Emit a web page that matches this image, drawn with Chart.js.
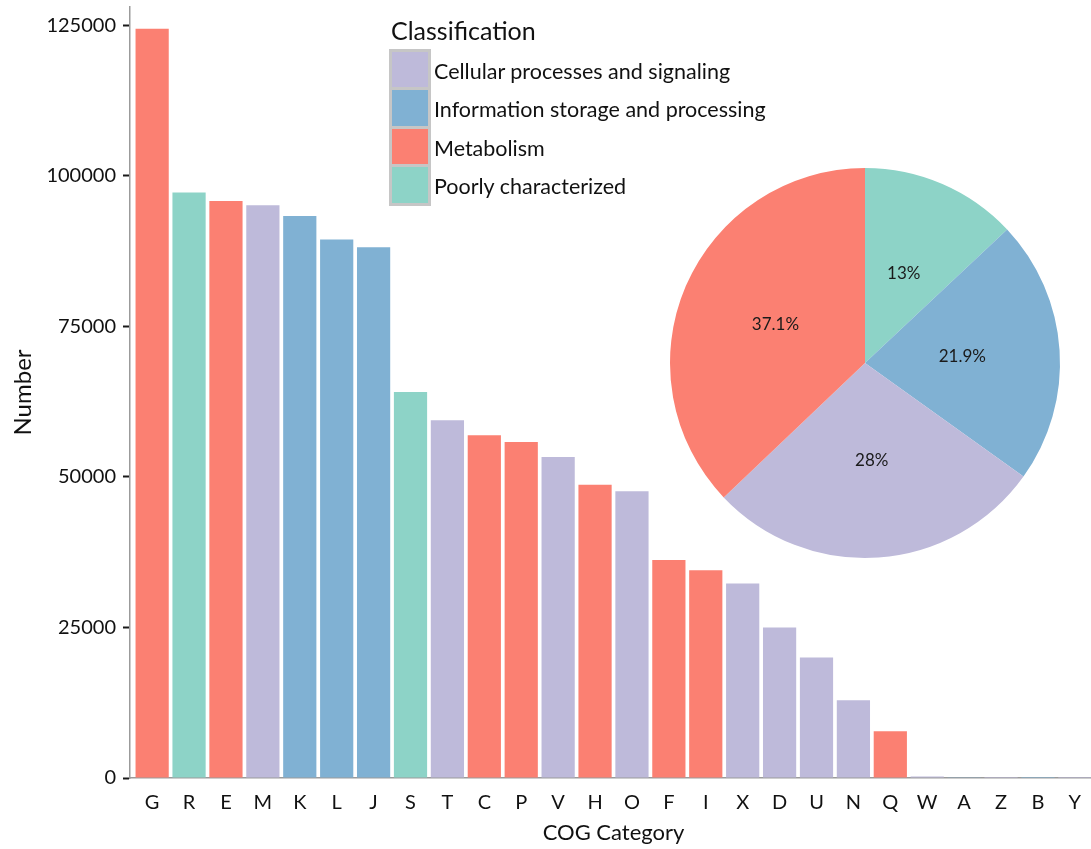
<!DOCTYPE html>
<html>
<head>
<meta charset="utf-8">
<script src="https://cdn.jsdelivr.net/npm/chart.js@4.4.1/dist/chart.umd.min.js"></script>
<style>
  html, body { margin: 0; padding: 0; background: #fff; overflow: hidden; }
  #wrap { position: relative; width: 1091px; height: 849px; overflow: hidden; font-family: Lato, sans-serif; color: #111; }
  #barChart { position: absolute; left: 0; top: 0; }
  #pieChart { position: absolute; left: 665px; top: 163px; }
  #legendTitle { position: absolute; left: 391px; top: 14.6px; font-size: 25px; line-height: 30px; white-space: nowrap; }
  #legendKeys { position: absolute; left: 389px; top: 48.5px; padding: 3px; background: #c6c6c6; }
  #legendKeys div { width: 36px; height: 35.5px; margin-bottom: 3px; }
  #legendKeys div:last-child { margin-bottom: 0; }
  .legendLabel { position: absolute; left: 434px; font-size: 21.5px; line-height: 25.8px; white-space: nowrap; }
</style>
</head>
<body>
<div id="wrap">
  <canvas id="barChart" width="1097" height="849"></canvas>
  <canvas id="pieChart" width="400" height="400"></canvas>
  <div id="legendTitle">Classification</div>
  <div id="legendKeys"></div>
</div>
<script>
// COG categories, gene counts and the functional class of each category
const categories = ['G', 'R', 'E', 'M', 'K', 'L', 'J', 'S', 'T', 'C', 'P', 'V', 'H', 'O', 'F', 'I', 'X', 'D', 'U', 'N', 'Q', 'W', 'A', 'Z', 'B', 'Y'];
const counts = [124400, 97200, 95800, 95100, 93300, 89400, 88100, 64100, 59400, 56900, 55800, 53300, 48700, 47600, 36200, 34500, 32300, 25000, 20000, 12900, 7750, 250, 40, 10, 5, 2];
const categoryClass = [2, 3, 2, 0, 1, 1, 1, 3, 0, 2, 2, 0, 2, 0, 2, 2, 0, 0, 0, 0, 2, 0, 1, 0, 1, 0];

const classes = ['Cellular processes and signaling', 'Information storage and processing', 'Metabolism', 'Poorly characterized'];
const classColors = ['#BEBADA', '#80B1D3', '#FB8072', '#8DD3C7'];

// pie slices, clockwise from 12 o'clock
const pieClass = [3, 1, 0, 2];
const piePercent = [13, 21.9, 28, 37.1];

const yTicks = [0, 25000, 50000, 75000, 100000, 125000];
const yMax = 128000;

const FONT = 'Lato';

// legend
const keyBox = document.getElementById('legendKeys');
const wrap = document.getElementById('wrap');
classes.forEach((name, i) => {
  const key = document.createElement('div');
  key.style.background = classColors[i];
  keyBox.appendChild(key);

  const label = document.createElement('div');
  label.className = 'legendLabel';
  label.textContent = name;
  const center = 48.5 + 3 + 17.75 + i * 38.5;
  label.style.top = (center - 10.7) + 'px';
  wrap.appendChild(label);
});

// bar chart
new Chart(document.getElementById('barChart'), {
  type: 'bar',
  data: {
    datasets: [{
      data: categories.map((c, i) => ({ x: i + 1, y: counts[i] })),
      backgroundColor: categoryClass.map(k => classColors[k]),
      borderWidth: 0,
      categoryPercentage: 1,
      barPercentage: 0.9
    }]
  },
  options: {
    responsive: false,
    animation: false,
    layout: { padding: { top: 7, left: 0, right: 0, bottom: 0 } },
    plugins: { legend: { display: false }, tooltip: { enabled: false } },
    scales: {
      x: {
        type: 'linear',
        offset: false,
        min: 0.4,
        max: categories.length + 0.6,
        afterBuildTicks: s => { s.ticks = categories.map((c, i) => ({ value: i + 1 })); },
        afterFit: s => { s.height = 71; s.paddingLeft = 0; s.paddingRight = 0; },
        grid: { display: false, offset: false },
        border: { display: true, color: '#9b9b9b', width: 1.5 },
        ticks: {
          autoSkip: false,
          maxRotation: 0,
          padding: 5,
          color: '#111',
          font: { family: FONT, size: 20 },
          callback: (v, i) => categories[i]
        },
        title: {
          display: true,
          text: 'COG Category',
          color: '#111',
          font: { family: FONT, size: 22 },
          padding: { top: 0, bottom: 3 }
        }
      },
      y: {
        min: 0,
        max: yMax,
        afterBuildTicks: s => { s.ticks = yTicks.map(v => ({ value: v })); },
        afterFit: s => { s.width = 130; s.paddingTop = 0; s.paddingBottom = 0; },
        grid: {
          drawOnChartArea: false,
          drawTicks: true,
          tickLength: 7,
          tickColor: '#1a1a1a',
          tickWidth: 2
        },
        border: { display: true, color: '#9b9b9b', width: 1.5 },
        ticks: {
          padding: 7,
          color: '#111',
          font: { family: FONT, size: 20 },
          callback: v => String(v)
        },
        title: {
          display: true,
          text: 'Number',
          color: '#111',
          font: { family: FONT, size: 24 },
          padding: { top: 9, bottom: 0 }
        }
      }
    }
  }
});

// percentage labels at the middle of each slice
const sliceLabels = {
  id: 'sliceLabels',
  afterDatasetsDraw(chart) {
    const ctx = chart.ctx;
    const meta = chart.getDatasetMeta(0);
    ctx.save();
    ctx.font = '17px ' + FONT;
    ctx.fillStyle = '#1a1a1a';
    ctx.textAlign = 'center';
    ctx.textBaseline = 'middle';
    meta.data.forEach((arc, i) => {
      const p = arc.tooltipPosition();
      ctx.fillText(piePercent[i] + '%', p.x, p.y);
    });
    ctx.restore();
  }
};

new Chart(document.getElementById('pieChart'), {
  type: 'pie',
  data: {
    labels: pieClass.map(k => classes[k]),
    datasets: [{
      data: piePercent,
      backgroundColor: pieClass.map(k => classColors[k]),
      borderWidth: 0
    }]
  },
  options: {
    responsive: false,
    animation: false,
    layout: { padding: 5 },
    plugins: { legend: { display: false }, tooltip: { enabled: false } }
  },
  plugins: [sliceLabels]
});
</script>
</body>
</html>
